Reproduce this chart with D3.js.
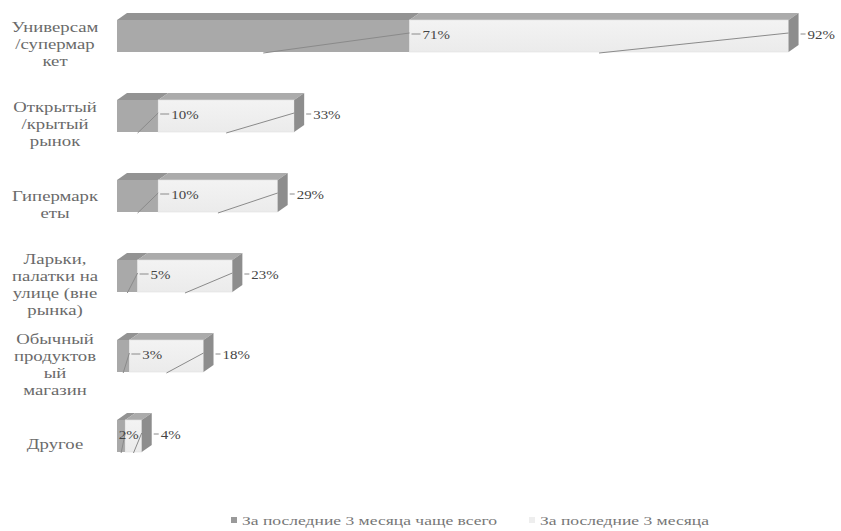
<!DOCTYPE html>
<html>
<head>
<meta charset="utf-8">
<script src="https://cdn.jsdelivr.net/npm/d3@7"></script>
<style>
  html, body { margin: 0; padding: 0; background: #fff; }
  svg { display: block; }
  text { font-family: "Liberation Serif", "Times New Roman", "DejaVu Serif", serif; }
</style>
</head>
<body>
<svg id="chart" width="841" height="531"></svg>
<script>
// Store types (one row each, top to bottom)
const categories = [
  ["Универсам", "/супермар", "кет"],
  ["Открытый", "/крытый", "рынок"],
  ["Гипермарк", "еты"],
  ["Ларьки,", "палатки на", "улице (вне", "рынка)"],
  ["Обычный", "продуктов", "ый", "магазин"],
  ["Другое"]
];
const categoryKeys = categories.map(c => c.join(" "));

// Shares, %
const mostOften = [71, 10, 10, 5, 3, 2];      // "За последние 3 месяца чаще всего"
const lastThree = [92, 33, 29, 23, 18, 4];    // "За последние 3 месяца"

const seriesNames = ["За последние 3 месяца чаще всего", "За последние 3 месяца"];

const svg = d3.select("#chart");
const serif = '"Liberation Serif", "Times New Roman", "DejaVu Serif", serif';

// stacked horizontal 3D bars
const x = d3.scaleLinear().domain([0, 100]).range([117, 529]);
const y = d3.scalePoint().domain(categoryKeys).range([20, 420]);
const barH = 32;
const dx = 10, dy = -7;   // depth of the extrusion

const rows = categoryKeys.map((k, i) => ({
  key: k,
  lines: categories[i],
  a: mostOften[i],
  b: lastThree[i]
}));

const g = svg.append("g");

const defs = svg.append("defs");
const gl = defs.append("linearGradient").attr("id", "lightFront").attr("x1", 0).attr("x2", 0).attr("y1", 0).attr("y2", 1);
gl.append("stop").attr("offset", "0%").attr("stop-color", "#f3f3f3");
gl.append("stop").attr("offset", "100%").attr("stop-color", "#ebebeb");

function topFace(x0, x1, yt) {
  return [[x0, yt], [x1, yt], [x1 + dx, yt + dy], [x0 + dx, yt + dy]];
}
function sideFace(xe, yt) {
  return [[xe, yt], [xe + dx, yt + dy], [xe + dx, yt + dy + barH], [xe, yt + barH]];
}
const poly = pts => "M" + pts.map(p => p.join(",")).join("L") + "Z";

// wide-set text placed at (tx, ty)
function label(sel, tx, ty, str, size, fill, anchor, stretch) {
  return sel.append("text")
    .attr("transform", `translate(${tx},${ty}) scale(${stretch},1)`)
    .attr("font-family", serif)
    .attr("font-size", size).attr("fill", fill)
    .attr("text-anchor", anchor || "start")
    .text(str);
}

const row = g.selectAll(".row").data(rows).join("g").attr("class", "row");

// dark segment (most often)
row.append("path")
  .attr("d", d => poly(topFace(x(0), x(d.a), y(d.key))))
  .attr("fill", "#939393");
row.append("rect")
  .attr("x", x(0)).attr("y", d => y(d.key))
  .attr("width", d => x(d.a) - x(0)).attr("height", barH)
  .attr("fill", "#a9a9a9");

// light segment (last three months), stacked after the dark one
row.append("path")
  .attr("d", d => poly(topFace(x(d.a), x(d.a + d.b), y(d.key))))
  .attr("fill", "#ababab");
row.append("rect")
  .attr("x", d => x(d.a)).attr("y", d => y(d.key))
  .attr("width", d => x(d.a + d.b) - x(d.a)).attr("height", barH)
  .attr("fill", "url(#lightFront)")
  .attr("stroke", "#e2e2e2").attr("stroke-width", 0.6);
row.append("path")
  .attr("d", d => poly(sideFace(x(d.a + d.b), y(d.key))))
  .attr("fill", "#8d8d8d");

// leader lines and value labels
const lineColor = "#8a8a8a";
const labelColor = "#444";
const fs = 13, valStretch = 1.15;

row.each(function (d) {
  const gr = d3.select(this);
  const yt = y(d.key);
  const yc = yt + barH / 2;
  const x0 = x(0), x1 = x(d.a), x2 = x(d.a + d.b);

  // light segment label
  gr.append("line")
    .attr("x1", (x1 + x2) / 2).attr("y1", yt + barH + 1)
    .attr("x2", x2).attr("y2", yc - 3)
    .attr("stroke", lineColor).attr("stroke-width", 1);
  gr.append("line")
    .attr("x1", x2 + dx + 2).attr("y1", yc - 2)
    .attr("x2", x2 + dx + 7).attr("y2", yc - 2)
    .attr("stroke", lineColor).attr("stroke-width", 1);
  label(gr, x2 + dx + 9, yc + 3, d.b + "%", fs, labelColor, "start", valStretch);

  // dark segment label
  gr.append("line")
    .attr("x1", (x0 + x1) / 2).attr("y1", yt + barH + 1)
    .attr("x2", x1).attr("y2", yc - 3)
    .attr("stroke", lineColor).attr("stroke-width", 1);
  const t = label(gr, 0, yc + 3, d.a + "%", fs, labelColor, "start", valStretch);
  const tw = t.node().getComputedTextLength() * valStretch;
  const tx = Math.min(x1 + 13, x2 - tw - 3);
  t.attr("transform", `translate(${tx},${yc + 3}) scale(${valStretch},1)`);
  if (tx > x1 + 4) {
    gr.append("line")
      .attr("x1", x1 + 2).attr("y1", yc - 2)
      .attr("x2", tx - 2).attr("y2", yc - 2)
      .attr("stroke", lineColor).attr("stroke-width", 1);
  }
});

// category labels
const catFs = 15, lineH = 17;
row.each(function (d) {
  const gr = d3.select(this);
  const n = d.lines.length;
  const yc = y(d.key) + barH / 2 + 8;
  d.lines.forEach((s, j) => {
    label(gr, 55, yc + (j - (n - 1) / 2) * lineH + 5, s, catFs, "#6a6a6a", "middle", 1.25);
  });
});

// legend
const legend = svg.append("g");
const legItems = [
  { name: seriesNames[0], sq: 231, tx: 242, fill: "#9a9a9a" },
  { name: seriesNames[1], sq: 529, tx: 540, fill: "#eeeeee" }
];
legItems.forEach(it => {
  legend.append("rect").attr("x", it.sq).attr("y", 517).attr("width", 6).attr("height", 6).attr("fill", it.fill);
  label(legend, it.tx, 525, it.name, 13.5, "#777", "start", 1.3);
});
</script>
</body>
</html>
